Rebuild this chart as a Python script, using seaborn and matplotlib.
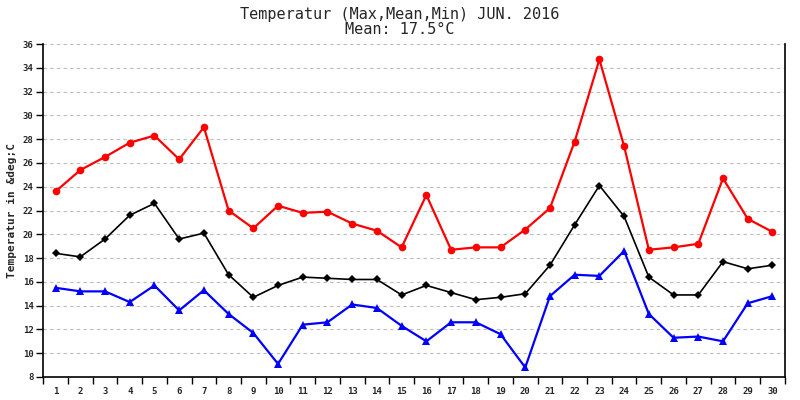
import numpy as np
import pandas as pd
import matplotlib
matplotlib.use("Agg")
import matplotlib.pyplot as plt
import seaborn as sns

days = list(range(1, 31))
t_max = [23.6, 25.4, 26.5, 27.7, 28.3, 26.3, 29.0, 22.0, 20.5, 22.4,
         21.8, 21.9, 20.9, 20.3, 18.9, 23.3, 18.7, 18.9, 18.9, 20.4,
         22.2, 27.8, 34.7, 27.4, 18.7, 18.9, 19.2, 24.7, 21.3, 20.2]
t_mean = [18.4, 18.1, 19.6, 21.6, 22.6, 19.6, 20.1, 16.6, 14.7, 15.7,
          16.4, 16.3, 16.2, 16.2, 14.9, 15.7, 15.1, 14.5, 14.7, 15.0,
          17.4, 20.8, 24.1, 21.5, 16.4, 14.9, 14.9, 17.7, 17.1, 17.4]
t_min = [15.5, 15.2, 15.2, 14.3, 15.7, 13.6, 15.3, 13.3, 11.7, 9.1,
         12.4, 12.6, 14.1, 13.8, 12.3, 11.0, 12.6, 12.6, 11.6, 8.8,
         14.8, 16.6, 16.5, 18.6, 13.3, 11.3, 11.4, 11.0, 14.2, 14.8]
y_ticks = list(range(8, 37, 2))

sns.set_style("white")
plt.rcParams['font.family'] = ['DejaVu Sans Mono', 'DejaVu Sans']

fig = plt.figure(figsize=(8, 4), dpi=100)
ax = fig.add_axes([0.054, 0.0575, 0.927, 0.8325])

df = pd.DataFrame({"day": days, "max": t_max, "mean": t_mean, "min": t_min})
sns.lineplot(data=df, x="day", y="max", ax=ax, color="#ff0000", lw=1.6,
             marker="o", markersize=5.5, markeredgewidth=0)
sns.lineplot(data=df, x="day", y="mean", ax=ax, color="#000000", lw=1.2,
             marker="D", markersize=4.2, markeredgewidth=0)
sns.lineplot(data=df, x="day", y="min", ax=ax, color="#0000ff", lw=1.6,
             marker="^", markersize=6, markeredgewidth=0)

ax.set_xlim(0.5, 30.5)
ax.set_ylim(8, 36)
ax.set_yticks(y_ticks)
ax.set_yticklabels([str(v) for v in y_ticks], fontsize=6.5, fontweight="bold")
ax.set_xticks(np.arange(0.5, 31, 1))
ax.set_xticklabels([])
ax.set_xticks(days, minor=True)
ax.set_xticklabels([str(d) for d in days], minor=True, fontsize=6.5, fontweight="bold")
ax.tick_params(axis="x", which="major", direction="out", length=5, width=1, color="black", bottom=True)
ax.tick_params(axis="x", which="minor", length=0, pad=7)
ax.tick_params(axis="y", direction="out", length=5, width=1, color="black", left=True, pad=2)

ax.yaxis.grid(True, linestyle=(0, (3, 3)), color="#bbbbbb", lw=0.8)
ax.xaxis.grid(False)
ax.set_axisbelow(True)
for side in ["left", "bottom", "right"]:
    ax.spines[side].set_visible(True)
    ax.spines[side].set_color("black")
    ax.spines[side].set_linewidth(1.2)
ax.spines["top"].set_visible(False)

ax.set_xlabel("")
ax.set_ylabel("Temperatur in &deg;C", fontsize=8, fontweight="bold", labelpad=4)
fig.text(0.5, 0.965, "Temperatur (Max,Mean,Min) JUN. 2016", ha="center", va="center",
         fontsize=11)
fig.text(0.5, 0.925, "Mean: 17.5°C", ha="center", va="center", fontsize=11)

fig.savefig("out.png", dpi=100)
